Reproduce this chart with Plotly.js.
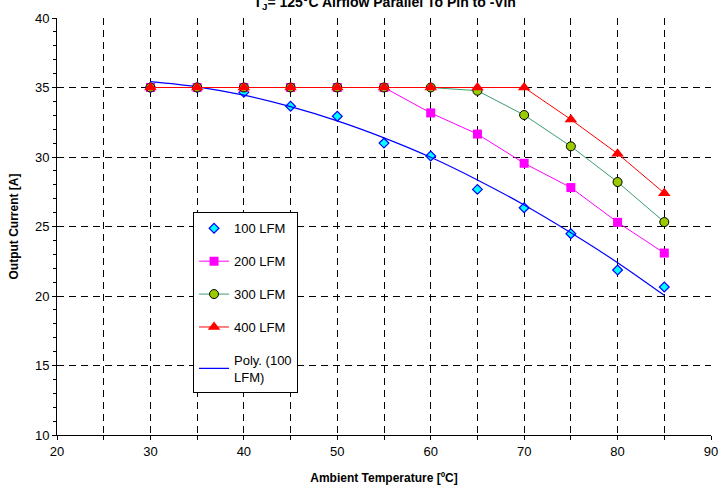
<!DOCTYPE html>
<html>
<head>
<meta charset="utf-8">
<script src="https://cdn.plot.ly/plotly-3.0.1.min.js"></script>
<style>html,body{margin:0;padding:0;background:#fff;}#chart{width:719px;height:491px;}</style>
</head>
<body>
<div id="chart"></div>
<script>
const temps = [30, 35, 40, 45, 50, 55, 60, 65, 70, 75, 80, 85];
const lfm100 = [35.0, 35.0, 34.65, 33.65, 32.93, 31.0, 30.07, 27.67, 26.35, 24.48, 21.87, 20.65];
const lfm200 = [35.0, 35.0, 35.0, 35.0, 35.0, 35.0, 33.17, 31.65, 29.55, 27.8, 25.3, 23.09];
const lfm300 = [35.0, 35.0, 35.0, 35.0, 35.0, 35.0, 35.0, 34.77, 33.02, 30.77, 28.2, 25.32];
const lfm400 = [35.0, 35.0, 35.0, 35.0, 35.0, 35.0, 35.0, 35.0, 35.0, 32.7, 30.24, 27.4];
const poly100 = [35.42, 35.05, 34.45, 33.62, 32.6, 31.38, 29.98, 28.35, 26.55, 24.55, 22.4, 20.05];
const seriesNames = ["100 LFM", "200 LFM", "300 LFM", "400 LFM", "Poly. (100<br>LFM)"];
const xTickVals = [20, 30, 40, 50, 60, 70, 80, 90];
const yTickVals = [10, 15, 20, 25, 30, 35, 40];

const font = "Arial, 'Liberation Sans', sans-serif";
const traces = [
  {x: temps, y: lfm100, name: seriesNames[0], mode: "markers", legendgroup: "a", legendrank: 1,
   marker: {symbol: "diamond", size: 7.5, color: "#00FFFF", line: {color: "#0000FF", width: 1.2}}},
  {x: temps, y: poly100, name: seriesNames[4], mode: "lines", legendgroup: "e", legendrank: 5,
   line: {color: "#0000FF", width: 1.2, shape: "spline"}},
  {x: temps, y: lfm200, name: seriesNames[1], mode: "lines+markers", legendgroup: "b", legendrank: 2,
   line: {color: "#FF00FF", width: 1}, marker: {symbol: "square", size: 9, color: "#FF00FF"}},
  {x: temps, y: lfm300, name: seriesNames[2], mode: "lines+markers", legendgroup: "c", legendrank: 3,
   line: {color: "#3C9E6E", width: 1}, marker: {symbol: "circle", size: 9, color: "#99CC00", line: {color: "#000", width: 1}}},
  {x: temps, y: lfm400, name: seriesNames[3], mode: "lines+markers", legendgroup: "d", legendrank: 4,
   line: {color: "#FF0000", width: 1}, marker: {symbol: "triangle-up", size: 11, color: "#FF0000"}}
];

const gridStyle = {gridcolor: "#000", gridwidth: 1, griddash: "7px,5px"};
const layout = {
  width: 719, height: 491,
  margin: {l: 57, r: 8, t: 18, b: 56},
  paper_bgcolor: "#fff", plot_bgcolor: "#fff",
  font: {family: font, size: 12, color: "#000"},
  showlegend: true,
  title: {text: "<b>T<sub>J</sub>= 125°C Airflow Parallel To Pin to -Vin</b>", x: 0.535, xanchor: "center",
          y: 0.995, yanchor: "middle", yref: "container", font: {family: font, size: 14, color: "#000"}},
  legend: {x: 0.208, y: 0.534, xanchor: "left", yanchor: "top", bgcolor: "#fff", bordercolor: "#000", borderwidth: 1,
           font: {family: font, size: 13}, tracegroupgap: 13, traceorder: "grouped"},
  xaxis: Object.assign({range: [20, 90], tickvals: xTickVals, ticks: "outside", ticklen: 4, tickcolor: "#000",
          showline: true, linecolor: "#000", linewidth: 1, zeroline: false, showgrid: true,
          tickfont: {family: font, size: 13},
          minor: Object.assign({dtick: 5, tick0: 0, ticks: "outside", ticklen: 4, tickcolor: "#000", showgrid: true}, gridStyle),
          title: {text: "<b>Ambient Temperature [ºC]</b>", font: {family: font, size: 12}, standoff: 16}}, gridStyle),
  yaxis: Object.assign({range: [10, 40], tickvals: yTickVals, ticks: "outside", ticklen: 4, tickcolor: "#000",
          showline: true, linecolor: "#000", linewidth: 1, zeroline: false, showgrid: true,
          tickfont: {family: font, size: 13},
          minor: {dtick: 1, tick0: 0, ticks: "outside", ticklen: 3, tickcolor: "#000", showgrid: false},
          title: {text: "<b>Output Current [A]</b>", font: {family: font, size: 12}, standoff: 13}}, gridStyle)
};
Plotly.newPlot("chart", traces, layout, {displayModeBar: false, staticPlot: true});
</script>
</body>
</html>
